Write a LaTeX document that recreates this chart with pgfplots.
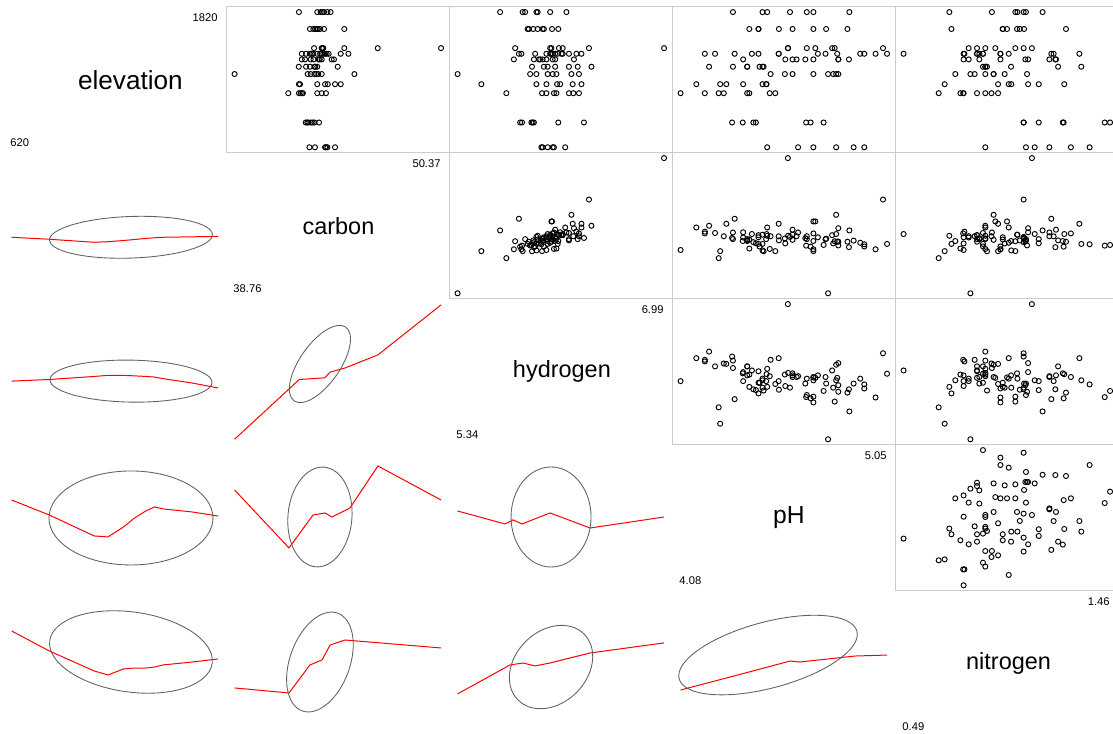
\documentclass[border=0pt]{standalone}
\usepackage{fontspec}
\setmainfont{Liberation Sans}
\usepackage{pgfplots}
\usepackage{pgfplotstable}
\pgfplotsset{compat=1.18}
\pgfplotstableread{
elev C H pH N
1820 44.16 5.68 4.873 1.143
1820 42.38 5.86 4.704 1.015
1820 43.41 5.88 4.673 1.065
1820 43.60 5.97 4.594 1.054
1820 43.70 5.98 4.487 0.705
1820 43.79 6.08 4.465 1.025
1820 43.98 6.21 4.326 0.905
1670 43.00 5.90 4.446 0.715
1670 43.19 5.91 4.864 1.253
1670 43.30 5.945 4.542 1.036
1670 43.38 5.98 4.403 0.956
1670 43.45 6.02 4.764 1.056
1670 43.57 6.03 4.446 0.956
1670 43.79 6.145 4.606 1.023
1670 44.93 6.095 4.704 0.976
1500 50.37 6.99 4.584 1.093
1500 46.81 6.39 5.031 1.054
1500 44.93 6.09 4.713 0.921
1500 43.23 5.80 4.804 1.015
1500 43.66 6.08 4.673 0.796
1500 43.70 6.15 4.585 0.874
1500 43.75 6.18 4.792 0.835
1450 43.00 6.14 5.05 0.863
1450 45.16 5.83 4.334 1.184
1450 42.54 5.85 4.996 0.945
1450 42.78 5.96 4.943 0.945
1450 43.10 6.08 4.924 0.984
1450 43.19 6.09 4.816 0.835
1450 43.40 6.10 4.761 0.846
1450 43.57 6.12 4.725 0.772
1450 43.65 6.05 4.541 1.195
1450 43.75 6.17 4.446 0.835
1450 43.85 6.18 4.415 0.49
1450 43.94 6.23 4.242 0.863
1450 44.05 6.29 4.194 0.776
1450 44.73 6.33 4.541 1.316
1400 42.54 5.79 4.704 0.945
1400 42.72 5.95 4.871 1.203
1400 43.04 5.99 4.572 0.772
1400 43.20 6.00 4.821 1.062
1400 43.49 6.02 4.666 0.846
1400 43.55 6.05 4.374 0.796
1400 43.66 6.10 4.625 1.175
1400 44.22 6.12 4.606 1.206
1400 44.35 6.27 4.821 1.075
1335 42.37 5.935 4.470 0.882
1335 42.78 6.03 4.451 0.863
1335 43.00 6.06 4.465 1.325
1335 43.25 6.12 4.393 0.995
1335 43.30 6.23 4.393 1.216
1335 43.41 6.30 4.326 0.874
1335 44.56 6.41 4.214 0.874
1270 38.76 5.34 4.773 0.804
1270 45.50 6.25 4.811 0.913
1270 42.87 5.92 4.821 1.070
1270 43.04 5.97 4.797 0.965
1270 43.25 6.06 4.704 0.733
1270 43.35 6.10 4.606 0.913
1270 43.47 6.13 4.570 0.874
1270 43.66 6.31 4.503 0.824
1180 42.38 5.53 4.266 0.683
1180 42.44 5.97 4.465 0.996
1180 43.41 6.05 4.482 1.125
1180 43.85 6.135 4.484 1.245
1180 44.00 6.16 4.374 1.075
1180 44.73 6.26 4.295 0.934
1180 44.41 6.33 4.154 0.984
1100 41.78 5.73 4.259 0.655
1100 42.38 6.015 4.525 0.934
1100 42.48 6.05 4.08 0.772
1100 42.57 6.11 4.499 0.874
1100 42.60 6.13 4.403 0.757
1100 43.41 6.23 4.393 0.835
1100 43.66 6.265 4.283 0.903
1100 43.90 6.31 4.194 0.770
840 42.76 5.84 4.691 1.242
840 42.85 5.855 4.670 1.435
840 42.91 5.93 4.752 1.46
840 43.06 5.94 4.434 1.125
840 43.15 5.95 4.422 1.054
840 43.25 6.145 4.372 1.238
840 43.51 6.35 4.322 1.054
620 42.97 6.01 4.943 1.364
620 43.28 6.02 4.893 1.065
620 43.85 6.06 4.811 1.106
620 43.90 6.10 4.704 1.276
620 43.98 6.11 4.632 1.175
620 44.41 6.20 4.487 0.874
}\soil

\newcommand\ticklab{\fontsize{8.4}{10}\selectfont}

\pgfplotsset{
  panel/.style={scale only axis, width=167.25pt, height=109.5pt,
    anchor=north west, xtick=\empty, ytick=\empty},
  upper/.style={panel, axis line style={draw=black!20, line width=0.75pt}},
  lower/.style={panel, hide axis},
  diag/.style={panel, hide axis, xmin=0, xmax=1, ymin=0, ymax=1},
  xE/.style={xmin=572, xmax=1868}, yE/.style={ymin=572, ymax=1868},
  xC/.style={xmin=38.2956, xmax=50.8344}, yC/.style={ymin=38.2956, ymax=50.8344},
  xH/.style={xmin=5.274, xmax=7.056}, yH/.style={ymin=5.274, ymax=7.056},
  xP/.style={xmin=4.0412, xmax=5.0888}, yP/.style={ymin=4.0412, ymax=5.0888},
  xN/.style={xmin=0.4512, xmax=1.4988}, yN/.style={ymin=0.4512, ymax=1.4988},
  pts/.style={only marks, mark=o, black, mark size=1.9pt, mark options={line width=0.7pt}},
  smooth line/.style={red, line width=0.75pt},
}
\tikzset{ell/.style={draw=black!62, line width=0.65pt}}

% #1 label, #2 font size, #3 label x position, #4 max, #5 min
\newcommand\diagpanel[5]{%
  \node[font=\fontsize{#2}{#2}\selectfont, inner sep=0pt] at (rel axis cs:#3,0.5) {#1};
  \node[font=\ticklab, anchor=east, inner sep=0pt] at (rel axis cs:0.962,0.928) {#4};
  \node[font=\ticklab, anchor=west, inner sep=0pt] at (rel axis cs:0.031,0.066) {#5};
}

\begin{document}
\begin{tikzpicture}
\useasboundingbox (0,0) rectangle (834.75pt,550.5pt);

% ---------------- row 0 ----------------
\begin{axis}[diag, at={(2.475pt,545.475pt)}]
\diagpanel{elevation}{19.6}{0.570}{1820}{620}
\end{axis}
\begin{axis}[upper, xC, yE, at={(169.725pt,545.475pt)}]
\addplot[pts] table[x=C, y=elev] {\soil};
\end{axis}
\begin{axis}[upper, xH, yE, at={(336.975pt,545.475pt)}]
\addplot[pts] table[x=H, y=elev] {\soil};
\end{axis}
\begin{axis}[upper, xP, yE, at={(504.225pt,545.475pt)}]
\addplot[pts] table[x=pH, y=elev] {\soil};
\end{axis}
\begin{axis}[upper, xN, yE, at={(671.475pt,545.475pt)}]
\addplot[pts] table[x=N, y=elev] {\soil};
\end{axis}

% ---------------- row 1 ----------------
\begin{axis}[lower, xE, yC, at={(2.475pt,435.975pt)}]
\addplot[smooth line] coordinates {(620,43.57) (840,43.40) (1100,43.14) (1180,43.19) (1270,43.29) (1335,43.38) (1400,43.47) (1450,43.53) (1500,43.57) (1670,43.61) (1820,43.65)};
\draw[ell, rotate around={2:(axis cs:1314,43.57)}] (axis cs:1314,43.57) ellipse [x radius=61.1pt, y radius=15.6pt];
\end{axis}
\begin{axis}[diag, at={(169.725pt,435.975pt)}]
\diagpanel{carbon}{17.6}{0.503}{50.37}{38.76}
\end{axis}
\begin{axis}[upper, xH, yC, at={(336.975pt,435.975pt)}]
\addplot[pts] table[x=H, y=C] {\soil};
\end{axis}
\begin{axis}[upper, xP, yC, at={(504.225pt,435.975pt)}]
\addplot[pts] table[x=pH, y=C] {\soil};
\end{axis}
\begin{axis}[upper, xN, yC, at={(671.475pt,435.975pt)}]
\addplot[pts] table[x=N, y=C] {\soil};
\end{axis}

% ---------------- row 2 ----------------
\begin{axis}[lower, xE, yH, at={(2.475pt,326.475pt)}]
\addplot[smooth line] coordinates {(620,6.05) (840,6.07) (1100,6.107) (1180,6.12) (1270,6.12) (1335,6.114) (1400,6.107) (1450,6.10) (1500,6.08) (1670,6.027) (1820,5.966)};
\draw[ell, rotate around={-1:(axis cs:1314,6.05)}] (axis cs:1314,6.05) ellipse [x radius=60.75pt, y radius=15.75pt];
\end{axis}
\begin{axis}[lower, xC, yH, at={(169.725pt,326.475pt)}]
\addplot[smooth line] coordinates {(38.76,5.34) (42.40,6.07) (43.84,6.09) (44.13,6.16) (44.97,6.21) (46.82,6.37) (50.37,6.98)};
\draw[ell, rotate around={55:(axis cs:43.56,6.259)}] (axis cs:43.56,6.259) ellipse [x radius=33.75pt, y radius=15pt];
\end{axis}
\begin{axis}[diag, at={(336.975pt,326.475pt)}]
\diagpanel{hydrogen}{17.6}{0.505}{6.99}{5.34}
\end{axis}
\begin{axis}[upper, xP, yH, at={(504.225pt,326.475pt)}]
\addplot[pts] table[x=pH, y=H] {\soil};
\end{axis}
\begin{axis}[upper, xN, yH, at={(671.475pt,326.475pt)}]
\addplot[pts] table[x=N, y=H] {\soil};
\end{axis}

% ---------------- row 3 ----------------
\begin{axis}[lower, xE, yP, at={(2.475pt,216.975pt)}]
\addplot[smooth line] coordinates {(620,4.692) (840,4.584) (1100,4.434) (1180,4.427) (1270,4.498) (1335,4.563) (1400,4.613) (1450,4.642) (1500,4.628) (1670,4.606) (1820,4.577)};
\draw[ell] (axis cs:1314,4.563) ellipse [x radius=61.5pt, y radius=35.25pt];
\end{axis}
\begin{axis}[lower, xC, yP, at={(169.725pt,216.975pt)}]
\addplot[smooth line] coordinates {(38.76,4.764) (41.82,4.348) (43.17,4.584) (43.85,4.599) (44.24,4.570) (45.25,4.635) (46.82,4.936) (50.37,4.692)};
\draw[ell, rotate around={85:(axis cs:43.56,4.57)}] (axis cs:43.56,4.57) ellipse [x radius=37.5pt, y radius=24pt];
\end{axis}
\begin{axis}[lower, xH, yP, at={(336.975pt,216.975pt)}]
\addplot[smooth line] coordinates {(5.34,4.613) (5.72,4.520) (5.783,4.549) (5.855,4.520) (6.079,4.599) (6.399,4.491) (6.99,4.570)};
\draw[ell] (axis cs:6.087,4.57) ellipse [x radius=30pt, y radius=37.5pt];
\end{axis}
\begin{axis}[diag, at={(504.225pt,216.975pt)}]
\diagpanel{pH}{18.5}{0.523}{5.05}{4.08}
\end{axis}
\begin{axis}[upper, xN, yP, at={(671.475pt,216.975pt)}]
\addplot[pts] table[x=N, y=pH] {\soil};
\end{axis}

% ---------------- row 4 ----------------
\begin{axis}[lower, xE, yN, at={(2.475pt,107.475pt)}]
\addplot[smooth line] coordinates {(620,1.210) (840,1.066) (1100,0.923) (1180,0.894) (1270,0.937) (1335,0.944) (1400,0.944) (1450,0.951) (1500,0.966) (1670,0.987) (1820,1.009)};
\draw[ell, rotate around={-8:(axis cs:1314,1.059)}] (axis cs:1314,1.059) ellipse [x radius=61.5pt, y radius=30pt];
\end{axis}
\begin{axis}[lower, xC, yN, at={(169.725pt,107.475pt)}]
\addplot[smooth line] coordinates {(38.76,0.801) (41.82,0.765) (43.0,0.966) (43.68,1.002) (44.13,1.109) (44.97,1.145) (50.37,1.088)};
\draw[ell, rotate around={70:(axis cs:43.56,0.987)}] (axis cs:43.56,0.987) ellipse [x radius=39pt, y radius=22.5pt];
\end{axis}
\begin{axis}[lower, xH, yN, at={(336.975pt,107.475pt)}]
\addplot[smooth line] coordinates {(5.34,0.758) (5.759,0.966) (5.863,0.980) (5.959,0.959) (6.079,0.980) (6.399,1.052) (6.99,1.124)};
\draw[ell, rotate around={45:(axis cs:6.087,0.951)}] (axis cs:6.087,0.951) ellipse [x radius=35pt, y radius=27pt];
\end{axis}
\begin{axis}[lower, xP, yN, at={(504.225pt,107.475pt)}]
\addplot[smooth line] coordinates {(4.08,0.786) (4.383,0.908) (4.594,0.994) (4.64,0.987) (4.899,1.030) (5.05,1.037)};
\draw[ell, rotate around={15:(axis cs:4.491,1.037)}] (axis cs:4.491,1.037) ellipse [x radius=69pt, y radius=24.75pt];
\end{axis}
\begin{axis}[diag, at={(671.475pt,107.475pt)}]
\diagpanel{nitrogen}{17.6}{0.508}{1.46}{0.49}
\end{axis}
\end{tikzpicture}
\end{document}
